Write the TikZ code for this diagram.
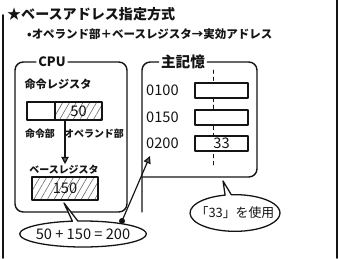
\documentclass[tikz,border=0pt]{standalone}
\usepackage{fontspec}
\setmainfont{Noto Sans CJK JP}
\usetikzlibrary{arrows.meta,patterns.meta,shapes.callouts}
\definecolor{MemoInk}{gray}{0.08}
\definecolor{MemoHatch}{gray}{0.40}
\tikzset{
    memo/diagram/.style={
        x=0.3mm, y=-0.3mm,
        draw=MemoInk, text=MemoInk,
        line width=1.1pt, line cap=round, line join=round,
        every node/.style={inner sep=1pt, outer sep=0pt, font=\bfseries}
    },
    memo/frame/.style={draw=MemoInk, line width=1.2pt, rounded corners=7pt},
    memo/edge/.style={draw=MemoInk, line width=1.3pt},
    memo/title/.style={anchor=west, font=\fontsize{12}{14}\selectfont\bfseries},
    memo/heading/.style={fill=white, inner sep=2pt, font=\fontsize{11}{13}\selectfont\bfseries},
    memo/label/.style={font=\fontsize{8.5}{10}\selectfont\bfseries},
    memo/number/.style={font=\fontsize{12.5}{14}\selectfont},
    memo/cell/.style={draw=MemoInk, fill=white, line width=1.1pt},
    memo/hatched/.style={
        draw=MemoInk, line width=1.1pt,
        pattern={Lines[angle=60, distance=5pt, line width=0.5pt]},
        pattern color=MemoHatch
    },
    memo/bubble/.style={
        ellipse callout, draw=MemoInk, fill=white,
        line width=1.1pt, callout pointer arc=8
    },
    memo/flow/.style={
        draw=MemoInk, line width=1pt,
        -{Triangle[length=2.2mm, width=2.2mm, fill=MemoHatch]}
    },
    memo/hidden/.style={draw=MemoInk, line width=0.7pt, dash pattern=on 3pt off 3pt},
    memo/point/.style={circle, fill=MemoInk, draw=MemoInk, inner sep=1.4pt}
}
\begin{document}
\begin{tikzpicture}[memo/diagram]
    \useasboundingbox (0,0) rectangle (339,258);
    % page edges
    \draw[memo/edge] (3,15) -- (3,258);
    \draw[memo/edge] (337,0) -- (337,258);
    % headings
    \node[memo/title] (title) at (6,14) {★ベースアドレス指定方式};
    \node[memo/title, font=\fontsize{9.8}{11}\selectfont\bfseries] (rule) at (26,34)
        {•オペランド部＋ベースレジスタ→実効アドレス};
    % CPU with instruction and base registers
    \node[memo/heading] (cpu) at (52,62) {CPU};
    \draw[memo/frame] (cpu.east) -- (127,62) -- (127,212) -- (15,212) -- (15,62) -- (cpu.west);
    \node[memo/label, font=\fontsize{9.5}{11}\selectfont\bfseries] (irname) at (58,84) {命令レジスタ};
    \node[memo/cell, minimum width=8.4mm, minimum height=5.4mm] (irop) at (41,111) {};
    \node[memo/hatched, minimum width=14.1mm, minimum height=5.4mm, anchor=west] (iradr) at (irop.east) {};
    \node[memo/number] (disp) at (iradr.center) {50};
    \node[memo/label] (oppart) at (40,134) {命令部};
    \node[memo/label] (adrpart) at (94,134) {オペランド部};
    \node[memo/label] (brname) at (64,170) {ベースレジスタ};
    \coordinate (tap) at (65,120);
    \draw[memo/flow] (tap) -- (tap |- brname.north);
    \node[memo/hatched, minimum width=19.8mm, minimum height=6.9mm] (breg) at (65,188.5) {};
    \node[memo/number] (base) at (breg.center) {150};
    % main memory
    \node[memo/heading, font=\fontsize{12.5}{14}\selectfont\bfseries] (mem) at (183,62) {主記憶};
    \draw[memo/frame] (mem.east) -- (257,62) -- (257,177) -- (142,177);
    \draw[memo/frame] (mem.west) -- (142,62) -- (142,212);
    \draw[memo/hidden] (213,70) -- (213,166);
    \foreach \addr/\ty/\val in {0100/90.5/, 0150/117.5/, 0200/143.5/33} {
        \node[memo/number, anchor=west] (a\addr) at (145,\ty) {\addr};
        \node[memo/cell, minimum width=15.9mm, minimum height=4.5mm] (c\addr) at (221.5,\ty) {};
        \node[memo/number] (v\addr) at (c\addr.center) {\val};
    }
    % effective address and the value used
    \node[memo/bubble, callout pointer arc=5, minimum width=38mm, minimum height=7.8mm,
        callout absolute pointer={(64,203)}] (sumbox) at (83,234) {};
    \node[memo/number] (sum) at (sumbox.center) {50 + 150 = 200};
    \node[memo/point] (hit) at (122,221) {};
    \coordinate (target) at (150,156);
    \draw[memo/flow] (hit) -- (target);
    \node[memo/bubble, minimum width=27mm, minimum height=11mm,
        callout absolute pointer={(223,181)}] (usebox) at (235,213) {};
    \node[memo/number, font=\fontsize{11}{13}\selectfont] (use) at (usebox.center) {「33」を使用};
\end{tikzpicture}
\end{document}
